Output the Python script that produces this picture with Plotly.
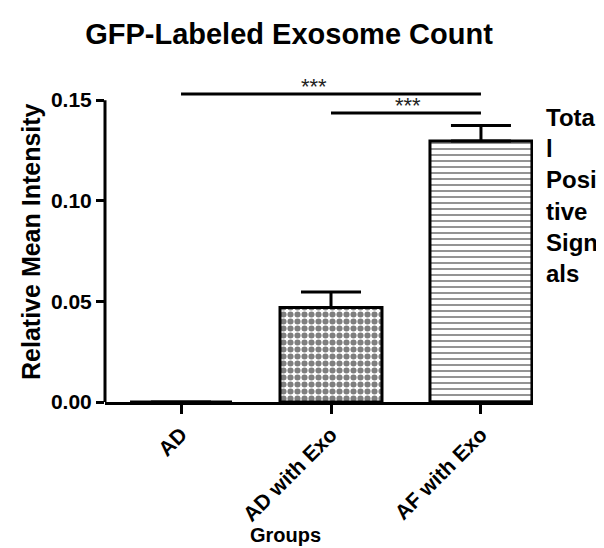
import plotly.graph_objects as go

# ---- data ----
groups = ["AD", "AD with Exo", "AF with Exo"]
means = [0.0, 0.047, 0.1297]
sem_up = [None, 0.0076, 0.0077]
patterns = ["", ".", "-"]
y_tickvals = [0.0, 0.05, 0.10, 0.15]
y_ticktext = ["0.00", "0.05", "0.10", "0.15"]
sig_pairs = [(0, 2), (1, 2)]
sig_heights = [0.153, 0.1436]
sig_labels = ["***", "***"]
sig_xshift = [-17, 2]

FONT = "Liberation Sans, Arial, sans-serif"

fig = go.Figure()
fig.add_trace(go.Bar(
    x=list(range(len(groups))),
    y=means,
    width=0.68,
    marker=dict(
        color="white",
        line=dict(color="black", width=3),
        pattern=dict(shape=patterns, fgcolor="black", bgcolor="white",
                     size=[6, 7, 6], solidity=[0.3, 0.6, 0.28]),
    ),
    error_y=dict(type="data", symmetric=False, array=sem_up,
                 arrayminus=[0, 0, 0], color="black", thickness=3, width=30),
    showlegend=False,
))

for (a, b), h in zip(sig_pairs, sig_heights):
    fig.add_shape(type="line", xref="x", yref="y", x0=a, x1=b, y0=h, y1=h,
                  line=dict(color="black", width=3))
for (a, b), h, lab, xs in zip(sig_pairs, sig_heights, sig_labels, sig_xshift):
    fig.add_annotation(x=(a + b) / 2, y=h, xref="x", yref="y", text=lab,
                       showarrow=False, yanchor="bottom", xshift=xs, yshift=-7,
                       font=dict(family=FONT, size=22, color="#222"))

# y axis line only up to 0.15
fig.add_shape(type="line", xref="paper", yref="y", x0=0, x1=0,
              y0=y_tickvals[0], y1=y_tickvals[-1],
              line=dict(color="black", width=3))

fig.add_annotation(text="Relative Mean Intensity", xref="paper", yref="paper",
                   x=-0.173, y=0.5, textangle=-90, showarrow=False,
                   xanchor="center", yanchor="middle",
                   font=dict(family=FONT, size=25, color="black", weight="bold"))
fig.add_annotation(text="Groups", xref="paper", yref="paper",
                   x=0.4206, y=(394 - 527) / 322, showarrow=False,
                   xanchor="center", yanchor="middle", borderpad=0,
                   font=dict(family=FONT, size=20, color="black", weight="bold"))
fig.add_annotation(text="Tota<br>l<br>Posi<br>tive<br>Sign<br>als",
                   xref="paper", yref="paper", x=(536 - 97) / 428, y=(394 - 94) / 322,
                   showarrow=False, xanchor="left", yanchor="top", align="left",
                   font=dict(family=FONT, size=24, color="black", weight="bold"))

fig.update_layout(
    width=604, height=548,
    margin=dict(l=97, r=79, t=72, b=154),
    paper_bgcolor="white", plot_bgcolor="white",
    title=dict(text="GFP-Labeled Exosome Count", xref="container", yref="container",
               x=281 / 604, y=1 - 26 / 548, xanchor="center", yanchor="middle",
               font=dict(family=FONT, size=29, color="black", weight="bold")),
    xaxis=dict(range=[-0.507, 2.347], tickvals=list(range(len(groups))),
               ticktext=groups, tickangle=-45, showline=True, linecolor="black",
               linewidth=3, ticks="outside", ticklen=9, tickwidth=3, tickcolor="black",
               showgrid=False, zeroline=False,
               tickfont=dict(family=FONT, size=21, color="black", weight="bold")),
    yaxis=dict(range=[0, 0.16], tickvals=y_tickvals, ticktext=y_ticktext,
               showline=False, ticks="outside", ticklen=8, tickwidth=3,
               tickcolor="black", showgrid=False, zeroline=False,
               tickfont=dict(family=FONT, size=21, color="black", weight="bold")),
)

fig.write_html("out.html")
